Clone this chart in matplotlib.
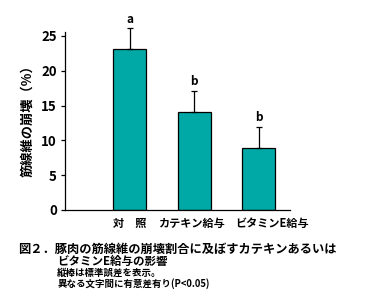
import matplotlib
matplotlib.use("Agg")
import matplotlib.pyplot as plt

plt.rcParams["font.family"] = ["Noto Sans CJK JP", "DejaVu Sans"]

categories = ["対　照", "カテキン給与", "ビタミンE給与"]
values = [23.1, 14.1, 8.9]
errors = [3.0, 3.0, 3.0]
letters = ["a", "b", "b"]
yticks = [0, 5, 10, 15, 20, 25]

fig = plt.figure(figsize=(3.83, 3.06), dpi=100)
ax = fig.add_axes([0.170, 0.314, 0.587, 0.6026])

x = list(range(len(values)))
ax.bar(x, values, width=0.51, color="#00A9A5", edgecolor="black", linewidth=0.9,
       yerr=[[0] * len(errors), errors], error_kw=dict(ecolor="black", elinewidth=0.9,
                                                       capsize=2.5, capthick=0.9))
for xi, v, e, lt in zip(x, values, errors, letters):
    ax.text(xi, v + e + 0.4, lt, ha="center", va="bottom", fontsize=8.5, fontweight="bold")

ax.set_xlim(-1.0, 2.48)
ax.set_ylim(0, 26.5)
ax.set_yticks(yticks)
ax.set_yticklabels([str(t) for t in yticks], fontsize=9.5, fontweight="bold")
# labels in the original sit a little off the bar centres (the last one to the right)
label_x = [0.0, 0.95, 2.21]
ax.set_xticks(label_x)
ax.set_xticklabels(categories, fontsize=8, fontweight="bold")
ax.tick_params(axis="x", length=0, pad=5)
ax.tick_params(axis="y", length=3, width=0.9, pad=3)
for s in ["top", "right"]:
    ax.spines[s].set_visible(False)
for s in ["left", "bottom"]:
    ax.spines[s].set_linewidth(0.9)
ax.spines["left"].set_bounds(0, 25.6)
ax.set_ylabel("筋線維の崩壊（%）", fontsize=9.5, fontweight="bold", labelpad=5)

fig.text(0.047, 1 - 249 / 306, "図２．豚肉の筋線維の崩壊割合に及ぼすカテキンあるいは",
         fontsize=8.8, fontweight="bold", va="center")
fig.text(0.149, 1 - 261.5 / 306, "ビタミンE給与の影響", fontsize=8.3, fontweight="bold",
         va="center")
fig.text(0.149, 1 - 273 / 306, "縦棒は標準誤差を表示。", fontsize=6.8, fontweight="bold",
         va="center")
fig.text(0.149, 1 - 284 / 306, "異なる文字間に有意差有り(P<0.05)", fontsize=6.8,
         fontweight="bold", va="center")

fig.savefig("out.png", dpi=100)
